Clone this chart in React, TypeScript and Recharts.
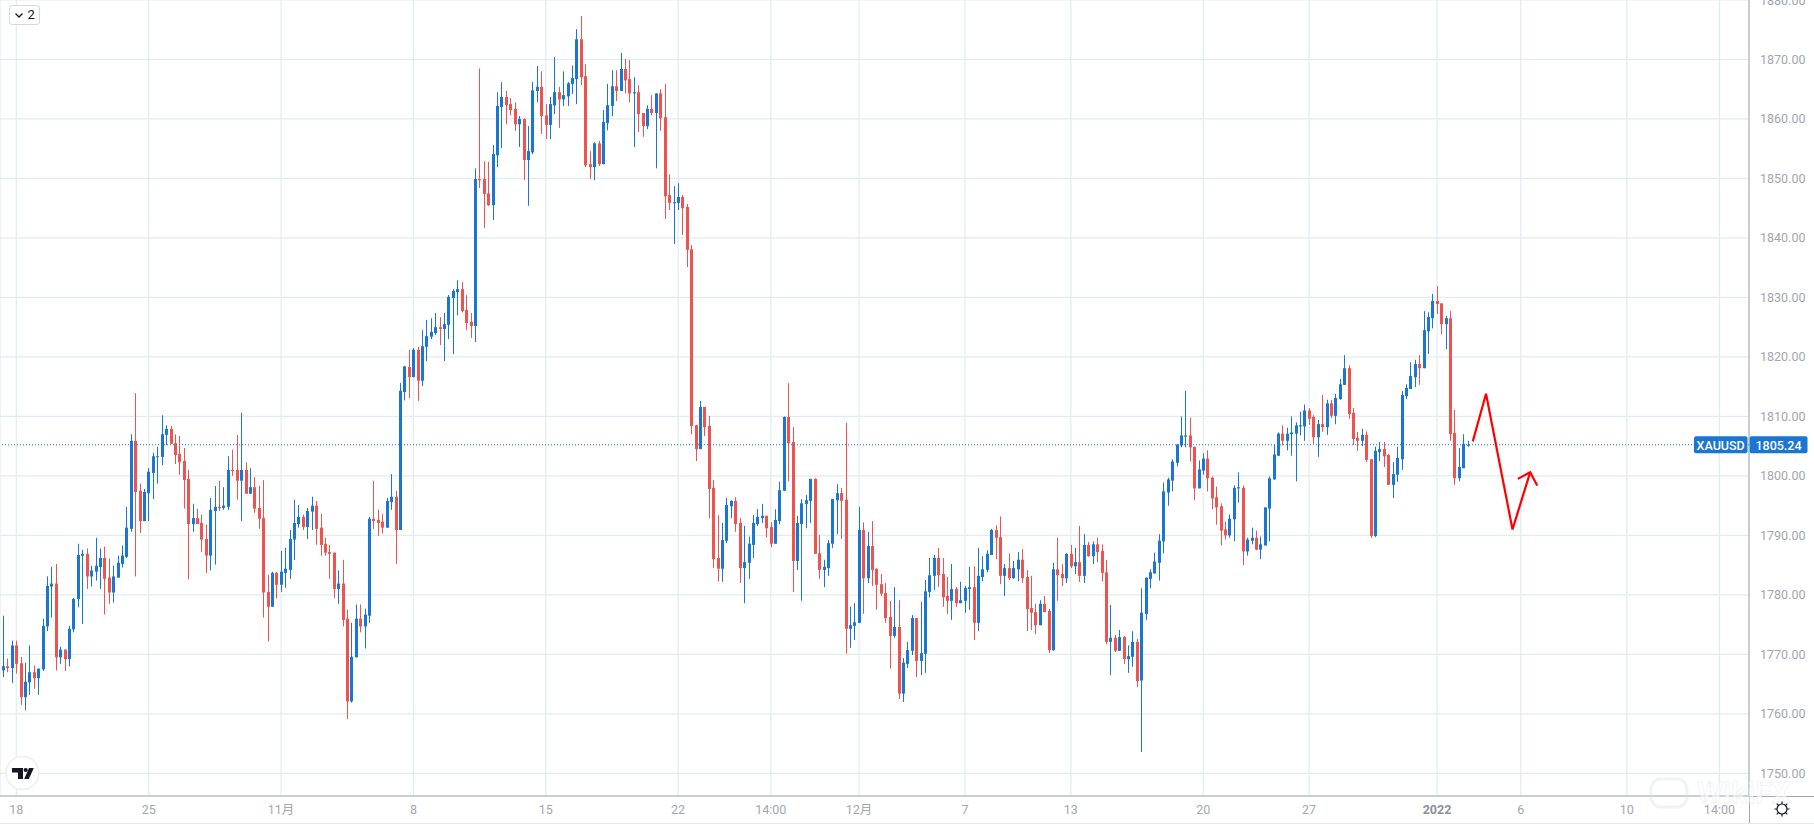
import React from "react";
import { ComposedChart, Bar, Line, XAxis, YAxis, CartesianGrid, ReferenceLine } from "recharts";

const highs = [
1776.5,1769.3,1772.3,1772.3,1769.6,1768.6,1771.5,1768.1,1767.6,1776.0,
1783.1,1784.7,1785.2,1771.3,1770.8,1774.8,1779.5,1788.6,1787.6,1787.8,
1784.9,1789.6,1787.8,1788.1,1786.1,1784.9,1786.6,1788.3,1794.8,1807.0,
1813.9,1798.7,1797.8,1801.3,1803.9,1804.9,1810.2,1808.5,1808.4,1807.0,
1806.7,1804.7,1801.0,1795.3,1794.5,1793.5,1791.8,1796.3,1798.3,1799.2,
1798.1,1803.3,1804.4,1806.9,1810.6,1802.3,1801.3,1799.8,1798.3,1799.3,
1783.4,1783.9,1783.9,1787.4,1787.9,1790.9,1796.0,1795.1,1793.5,1794.6,
1796.5,1795.8,1793.6,1789.6,1788.4,1787.1,1784.1,1785.9,1777.5,1775.3,
1778.4,1778.4,1777.7,1793.1,1799.2,1794.3,1793.6,1796.3,1800.3,1797.5,
1815.6,1818.5,1821.2,1821.5,1821.7,1824.5,1826.2,1826.5,1827.4,1826.7,
1827.4,1830.4,1831.4,1832.9,1832.6,1830.4,1827.4,1851.7,1868.5,1852.9,
1852.8,1855.6,1864.5,1866.2,1864.7,1863.5,1862.8,1860.5,1860.1,1858.8,
1866.2,1868.9,1868.0,1862.5,1863.7,1870.4,1865.4,1868.0,1866.2,1869.0,
1875.1,1877.3,1869.2,1854.6,1856.1,1856.3,1861.5,1865.9,1868.2,1868.2,
1871.1,1870.1,1869.9,1867.0,1865.7,1861.0,1862.3,1864.0,1864.3,1865.0,
1865.9,1850.7,1848.7,1849.2,1847.2,1845.7,1838.8,1808.6,1812.6,1811.6,
1810.1,1799.3,1793.4,1792.1,1796.3,1795.9,1796.4,1792.9,1791.6,1789.8,
1793.4,1794.4,1795.3,1793.3,1792.2,1794.4,1799.0,1810.0,1815.6,1808.2,
1793.3,1796.1,1796.8,1799.5,1799.6,1790.1,1785.9,1789.2,1796.1,1798.6,
1798.0,1808.9,1778.0,1778.6,1794.8,1792.2,1790.6,1792.4,1784.4,1783.5,
1782.0,1779.0,1781.3,1779.1,1769.4,1772.1,1776.6,1776.1,1778.8,1782.5,
1786.2,1786.7,1787.9,1786.2,1783.0,1785.2,1781.3,1782.2,1781.5,1784.7,
1784.8,1787.9,1786.5,1787.5,1791.1,1791.7,1793.2,1785.2,1787.0,1785.7,
1787.2,1787.7,1784.2,1783.2,1778.5,1779.1,1779.8,1777.6,1785.4,1789.6,
1785.2,1787.0,1788.4,1787.9,1791.6,1790.2,1788.9,1789.0,1789.6,1788.5,
1785.9,1778.3,1773.3,1774.1,1773.1,1771.5,1773.9,1772.6,1781.1,1782.9,
1784.3,1787.1,1790.2,1798.9,1799.7,1802.8,1805.3,1810.0,1814.3,1809.8,
1804.9,1802.6,1803.8,1804.3,1799.9,1798.2,1795.4,1792.3,1793.5,1798.4,
1800.6,1798.4,1789.6,1791.3,1790.8,1789.8,1794.7,1799.9,1805.3,1807.3,
1808.5,1808.1,1810.0,1809.0,1810.8,1812.0,1811.4,1810.2,1809.4,1813.6,
1812.8,1812.8,1813.8,1816.3,1820.3,1818.6,1811.4,1807.4,1807.9,1807.5,
1802.8,1804.9,1805.7,1805.7,1803.7,1802.3,1804.9,1814.3,1815.4,1819.1,
1819.5,1820.3,1827.7,1827.5,1830.6,1831.9,1829.0,1826.9,1827.7,1811.1,
1804.7,1807.0,1805.9,
];

const opens = [
1767.3,1768.0,1767.7,1771.5,1768.5,1762.8,1765.3,1767.0,1766.0,1767.5,
1774.7,1781.4,1781.9,1769.5,1770.8,1769.2,1774.2,1779.3,1786.6,1786.9,
1783.1,1783.9,1784.7,1786.2,1782.9,1780.4,1782.9,1785.2,1786.4,1791.1,
1805.9,1797.5,1792.4,1797.1,1800.5,1803.2,1803.2,1806.9,1807.9,1805.5,
1803.7,1802.5,1799.5,1791.9,1792.9,1792.1,1789.4,1786.6,1794.1,1794.8,
1794.6,1794.8,1801.0,1801.0,1799.2,1801.0,1797.0,1798.1,1794.6,1792.9,
1780.5,1778.0,1783.7,1781.7,1783.7,1784.2,1789.3,1791.9,1793.1,1791.4,
1794.0,1795.0,1791.3,1788.6,1787.2,1787.1,1781.0,1781.9,1776.0,1762.1,
1769.5,1776.0,1774.7,1776.5,1792.8,1792.6,1792.3,1791.3,1795.6,1796.5,
1790.9,1814.1,1818.3,1816.6,1821.2,1816.0,1821.7,1823.4,1824.0,1825.0,
1824.7,1825.4,1829.9,1830.9,1831.4,1827.9,1825.9,1825.2,1849.9,1849.9,
1847.5,1845.5,1853.9,1862.0,1863.7,1862.5,1861.7,1859.1,1860.0,1853.1,
1854.4,1864.7,1865.4,1860.6,1859.0,1862.3,1864.5,1863.3,1863.8,1865.9,
1866.7,1873.4,1867.2,1852.4,1851.9,1855.9,1852.4,1859.3,1862.2,1865.5,
1864.7,1868.4,1866.7,1864.3,1864.5,1861.0,1858.8,1861.7,1861.0,1864.3,
1860.3,1847.2,1845.9,1845.9,1846.9,1845.2,1838.1,1808.5,1804.5,1811.6,
1808.4,1798.0,1786.2,1784.4,1789.1,1794.9,1795.8,1792.1,1784.5,1785.4,
1788.4,1791.9,1792.9,1793.3,1791.4,1788.6,1792.4,1797.5,1809.9,1805.7,
1785.7,1791.9,1795.3,1795.8,1799.5,1787.0,1784.2,1784.5,1788.6,1795.9,
1797.1,1796.0,1774.3,1774.8,1775.3,1790.9,1782.8,1788.2,1784.4,1781.8,
1780.3,1776.3,1773.1,1774.6,1763.4,1768.4,1770.6,1776.1,1768.9,1770.1,
1780.5,1783.2,1786.2,1783.5,1779.8,1779.0,1781.0,1778.6,1779.0,1781.0,
1781.3,1775.3,1783.0,1784.2,1786.7,1790.9,1789.7,1783.2,1784.5,1782.8,
1784.3,1785.9,1783.0,1777.8,1777.1,1774.9,1778.5,1777.3,1770.7,1784.3,
1783.5,1782.8,1786.9,1784.8,1785.5,1783.2,1788.4,1786.5,1788.5,1787.4,
1783.8,1772.1,1772.8,1770.6,1772.9,1769.2,1769.6,1772.1,1765.6,1776.8,
1782.7,1783.6,1785.4,1789.0,1797.2,1799.2,1802.2,1805.1,1806.6,1806.8,
1804.9,1797.9,1800.9,1802.9,1799.7,1796.4,1794.9,1791.0,1790.0,1792.7,
1797.9,1798.0,1787.3,1789.1,1789.6,1787.6,1788.3,1794.5,1799.4,1803.4,
1807.1,1805.9,1807.0,1807.1,1808.3,1808.3,1811.0,1809.9,1806.5,1808.7,
1808.2,1812.2,1810.1,1812.9,1815.3,1818.1,1810.6,1806.4,1805.9,1806.9,
1802.8,1789.9,1804.0,1804.5,1803.5,1798.5,1800.2,1802.8,1813.4,1814.6,
1816.6,1818.8,1818.1,1824.3,1826.5,1829.4,1829.0,1825.5,1826.5,1807.2,
1799.6,1801.3,1805.2,
];

const closes = [
1768.0,1767.7,1771.5,1768.4,1762.8,1765.4,1767.0,1766.0,1767.6,1774.8,
1781.5,1781.9,1769.5,1770.8,1769.2,1774.3,1779.3,1786.7,1786.9,1783.1,
1784.1,1784.9,1786.2,1782.7,1780.4,1783.1,1785.4,1786.6,1791.3,1805.9,
1797.3,1792.4,1797.3,1800.7,1803.3,1803.3,1807.0,1807.9,1805.4,1803.5,
1802.3,1799.3,1791.9,1792.9,1791.9,1789.3,1786.6,1794.3,1794.8,1794.6,
1795.0,1801.0,1800.8,1799.2,1801.0,1797.0,1798.1,1794.5,1792.8,1780.4,
1778.0,1783.7,1781.7,1783.9,1784.4,1789.4,1792.1,1793.1,1791.4,1794.1,
1795.0,1791.1,1788.4,1787.1,1786.9,1781.0,1781.9,1775.8,1762.1,1769.6,
1776.0,1774.7,1776.7,1792.8,1792.4,1792.1,1791.3,1795.8,1796.5,1790.9,
1814.3,1818.4,1816.6,1821.2,1816.0,1821.8,1823.5,1824.2,1825.0,1824.7,
1825.5,1830.1,1831.1,1831.4,1827.7,1825.7,1825.2,1849.9,1849.7,1847.4,
1845.5,1854.1,1862.2,1863.7,1862.3,1861.5,1859.1,1860.0,1853.1,1854.6,
1864.8,1865.4,1860.5,1859.0,1862.5,1864.5,1863.3,1864.0,1866.0,1866.9,
1873.4,1867.0,1852.2,1851.9,1855.9,1852.4,1859.5,1862.3,1865.5,1864.7,
1868.4,1866.5,1864.3,1864.5,1860.8,1858.8,1861.7,1861.0,1864.3,1860.1,
1847.0,1845.9,1846.0,1846.9,1845.0,1838.0,1808.4,1804.5,1811.6,1808.2,
1797.8,1786.0,1784.4,1789.2,1795.1,1795.8,1791.9,1784.5,1785.5,1788.6,
1792.1,1793.1,1793.3,1791.2,1788.6,1792.6,1797.6,1809.9,1805.5,1785.7,
1792.1,1795.4,1795.9,1799.5,1786.9,1784.2,1784.7,1788.7,1796.1,1797.1,
1795.8,1774.3,1774.9,1775.4,1790.9,1782.8,1788.2,1784.2,1781.7,1780.2,
1776.1,1773.1,1774.6,1763.4,1768.6,1770.7,1776.1,1768.9,1770.2,1780.6,
1783.3,1786.2,1783.3,1779.6,1779.0,1781.0,1778.6,1779.1,1781.2,1781.3,
1775.3,1783.2,1784.3,1786.9,1790.9,1789.6,1783.2,1784.5,1782.8,1784.5,
1785.9,1782.8,1777.6,1777.0,1774.9,1778.5,1777.1,1770.7,1784.3,1783.3,
1782.8,1786.9,1784.8,1785.5,1783.2,1788.4,1786.5,1788.5,1787.2,1783.7,
1772.1,1772.8,1770.6,1772.9,1769.2,1769.7,1772.1,1765.5,1777.0,1782.9,
1783.8,1785.6,1789.1,1797.4,1799.4,1802.4,1805.3,1806.8,1806.8,1804.8,
1797.9,1801.1,1802.9,1799.6,1796.2,1794.7,1790.8,1790.0,1792.8,1798.0,
1798.1,1787.3,1789.3,1789.6,1787.6,1788.5,1794.7,1799.6,1803.6,1807.1,
1805.9,1807.1,1807.3,1808.5,1808.5,1811.0,1809.6,1806.5,1808.7,1808.2,
1812.2,1810.1,1813.1,1815.4,1818.1,1810.4,1806.2,1805.9,1806.9,1802.7,
1789.9,1804.2,1804.5,1803.3,1798.5,1800.3,1803.0,1813.6,1814.8,1816.8,
1818.8,1818.1,1824.5,1826.7,1829.4,1828.9,1825.5,1826.5,1807.0,1799.6,
1801.5,1805.4,1805.24,
];

const lows = [
1766.2,1767.0,1765.2,1766.8,1761.5,1760.6,1763.2,1764.2,1763.2,1767.2,
1773.9,1776.2,1767.3,1768.4,1767.2,1768.0,1773.7,1777.9,1775.1,1781.0,
1781.4,1782.4,1781.0,1776.7,1778.5,1778.7,1782.9,1784.6,1786.2,1790.6,
1783.1,1790.4,1792.4,1792.4,1796.1,1798.7,1801.8,1805.2,1805.4,1802.0,
1800.2,1794.5,1782.6,1790.6,1791.9,1787.2,1783.7,1784.1,1785.1,1794.1,
1794.3,1794.3,1800.0,1796.0,1792.4,1797.0,1797.0,1793.8,1791.1,1776.2,
1772.2,1778.0,1779.4,1780.5,1781.2,1782.7,1785.9,1791.3,1790.9,1789.4,
1790.9,1788.4,1786.6,1786.6,1782.7,1779.5,1778.5,1774.7,1759.1,1761.9,
1769.5,1773.7,1771.0,1775.3,1791.1,1789.9,1790.3,1791.3,1794.3,1785.2,
1790.9,1812.7,1813.1,1816.6,1812.6,1815.1,1819.3,1823.0,1823.7,1822.0,
1819.3,1823.0,1820.5,1827.0,1827.5,1824.5,1823.2,1822.5,1848.4,1841.7,
1845.4,1843.0,1851.9,1855.1,1859.1,1860.6,1858.0,1855.3,1849.7,1845.4,
1854.1,1862.8,1857.5,1856.6,1856.6,1860.8,1858.5,1862.2,1862.2,1864.2,
1862.5,1865.7,1851.9,1849.9,1849.7,1852.1,1852.4,1858.1,1860.5,1863.0,
1864.7,1864.3,1862.8,1855.3,1857.8,1857.0,1858.3,1860.6,1851.7,1858.0,
1843.2,1844.7,1839.0,1844.7,1840.5,1835.1,1807.0,1802.5,1804.5,1806.7,
1792.9,1784.5,1782.2,1782.2,1788.7,1792.9,1790.6,1782.0,1778.6,1782.7,
1786.2,1791.6,1792.1,1789.6,1788.0,1788.6,1791.9,1797.5,1799.1,1780.5,
1784.2,1779.0,1791.2,1792.1,1786.9,1782.7,1781.3,1783.2,1787.9,1790.2,
1789.4,1770.1,1771.1,1772.4,1775.3,1776.8,1782.0,1781.5,1777.5,1779.8,
1775.3,1767.6,1772.8,1762.5,1762.0,1767.7,1769.9,1766.2,1766.5,1766.9,
1779.6,1780.8,1781.3,1778.0,1776.8,1775.8,1778.0,1778.6,1777.0,1777.5,
1772.4,1773.9,1782.3,1783.8,1786.7,1786.0,1781.8,1779.8,1782.5,1782.7,
1782.3,1782.0,1773.9,1774.1,1773.4,1774.9,1777.1,1770.2,1770.6,1779.0,
1781.5,1782.0,1784.5,1783.5,1782.2,1782.0,1786.4,1785.2,1785.5,1782.2,
1771.7,1766.5,1770.4,1770.6,1768.4,1766.9,1767.9,1764.5,1753.6,1775.8,
1781.1,1783.6,1782.4,1787.0,1795.0,1797.4,1801.6,1804.8,1804.8,1802.4,
1795.9,1797.9,1800.2,1797.4,1794.4,1791.8,1788.3,1789.3,1789.6,1789.0,
1795.5,1785.0,1786.6,1788.5,1787.5,1786.0,1788.3,1789.0,1799.4,1803.3,
1805.1,1804.3,1803.4,1799.1,1806.8,1805.9,1808.6,1805.4,1803.2,1807.4,
1806.9,1809.7,1808.7,1812.8,1815.3,1809.6,1805.2,1804.2,1805.0,1802.3,
1789.6,1789.7,1802.5,1801.5,1798.5,1796.3,1799.0,1801.0,1812.9,1814.6,
1814.9,1815.3,1818.1,1820.5,1824.8,1827.2,1823.8,1821.3,1805.9,1798.5,
1799.1,1801.3,1804.9,
];

const priceTicks = [1750, 1760, 1770, 1780, 1790, 1800, 1810, 1820, 1830, 1840, 1850, 1860, 1870, 1880];
const dateTickIndex = [3, 33, 63, 93, 123, 153, 174, 194, 218, 242, 272, 296, 325, 344, 368, 389];
const dateTickLabels = ["18", "25", "11月", "8", "15", "22", "14:00", "12月", "7", "13", "20", "27", "2022", "6", "10", "14:00"];

const lastPrice = 1805.24;
const symbol = "XAUUSD";

const forecastIndex = [333.1, 336.1, 342.1, 346.1];
const forecastPrice = [1805.8, 1813.8, 1791.0, 1800.6];
const arrowIndex = [343.3, 346.1, 347.7];
const arrowPrice = [1799.5, 1800.6, 1798.4];

const UP = "#1976d2";
const DOWN = "#ef5350";
const GRID = "#e1ebf2";
const AXIS = "#a6a7ab";
const TEXT = "#a3a6af";
const FONT = 'Roboto, "Noto Sans CJK SC", sans-serif';

const candles: any[] = highs.map((h, i) => ({ i, high: h, low: lows[i], open: opens[i], close: closes[i] }));
const forecastRows = forecastIndex.map((i, k) => ({ i, forecast: forecastPrice[k] }));
const arrowRows = arrowIndex.map((i, k) => ({ i, arrow: arrowPrice[k] }));
const rows = [...candles, ...forecastRows, ...arrowRows];

function Candle(props: any) {
  const { x, y, width, height, payload } = props;
  if (payload.high === undefined) return null;
  const { high, low, open, close } = payload;
  const k = height / (high - low);
  const top = y + (high - Math.max(open, close)) * k;
  const h = Math.max(1, Math.abs(open - close) * k);
  const color = close >= open ? UP : DOWN;
  const cx = Math.round(x + width / 2 - 0.5);
  return (
    <g>
      <rect x={cx} y={y} width={1} height={height} fill={color} />
      <rect x={cx - 1} y={top} width={3} height={h} fill={color} />
    </g>
  );
}

function PriceTag(props: any) {
  const y = props.viewBox.y;
  return (
    <g fontFamily={FONT} fontSize={12.5} fontWeight={500} fill="#fff">
      <rect x={1694} y={y - 8.5} width={53.5} height={17} rx={2} fill={UP} />
      <rect x={1749.5} y={y - 8.5} width={58} height={17} rx={2} fill={UP} />
      <text x={1720.7} y={y + 0.5} textAnchor="middle" dominantBaseline="central">{symbol}</text>
      <text x={1778.5} y={y + 0.5} textAnchor="middle" dominantBaseline="central">{lastPrice.toFixed(2)}</text>
    </g>
  );
}

function DateTick(props: any) {
  const { x, payload } = props;
  const label = dateTickLabels[dateTickIndex.indexOf(payload.value)];
  return (
    <text x={x} y={809} textAnchor="middle" dominantBaseline="central" fontFamily={FONT} fontSize={12.5}
      fontWeight={label === "2022" ? 700 : 400} fill={label === "2022" ? "#8d909a" : TEXT}>
      {label}
    </text>
  );
}

function PriceTick(props: any) {
  const { y, payload } = props;
  return (
    <text x={1760} y={y} dominantBaseline="central" fontFamily={FONT} fontSize={12.5} fill={TEXT}>
      {payload.value.toFixed(2)}
    </text>
  );
}

const abs = (left: number, top: number, width: number, height: number, extra: any = {}) => ({
  position: "absolute" as const, left, top, width, height, ...extra,
});

export default function App() {
  return (
    <div style={abs(0, 0, 1814, 824, { position: "fixed", background: "#fff", overflow: "hidden" })}>
      <ComposedChart width={1814} height={824} data={rows} margin={{ top: 0, right: 0, bottom: 0, left: 0 }}>
        <CartesianGrid stroke={GRID} strokeWidth={1.2} />
        <XAxis
          dataKey="i"
          type="number"
          domain={[-0.694, 395.7]}
          ticks={dateTickIndex}
          interval={0}
          height={28}
          stroke={AXIS}
          tickLine={false}
          tick={<DateTick />}
          allowDataOverflow
        />
        <YAxis
          orientation="right"
          type="number"
          width={65}
          domain={[1746.19, 1880]}
          ticks={priceTicks}
          interval={0}
          stroke={AXIS}
          tickLine={false}
          tick={<PriceTick />}
          allowDataOverflow
        />
        <ReferenceLine y={lastPrice} stroke={UP} strokeDasharray="1 2" label={<PriceTag />} />
        <Bar dataKey={(d: any) => (d.high === undefined ? null : [d.low, d.high])} barSize={3} shape={<Candle />} isAnimationActive={false} />
        <Line dataKey="forecast" connectNulls stroke="#ff0000" strokeWidth={2.2} dot={false} activeDot={false} isAnimationActive={false} />
        <Line dataKey="arrow" connectNulls stroke="#ff0000" strokeWidth={2.2} dot={false} activeDot={false} isAnimationActive={false} />
      </ComposedChart>

      <div style={abs(1749, 796, 65, 1, { background: AXIS })} />
      <div style={abs(1749, 796, 1, 28, { background: AXIS })} />
      <div style={abs(0, 823, 1814, 1, { background: "#e6e7ea" })} />

      <div style={abs(8.5, 5, 31, 20, { boxSizing: "border-box", border: "1px solid #d6d8e0", borderRadius: 3, background: "#fff", fontFamily: FONT, fontSize: 13, color: "#131722" })}>
        <svg width={12} height={18} style={{ position: "absolute", left: 4, top: 0 }}>
          <path d="M1.5 7.5 L5 11 L8.5 7.5" fill="none" stroke="#131722" strokeWidth={1.3} />
        </svg>
        <span style={{ position: "absolute", left: 18, top: 1 }}>2</span>
      </div>

      <svg style={abs(0, 750, 46, 46)} viewBox="0 750 46 46">
        <circle cx={22.5} cy={773} r={16.5} fill="#fff" stroke="#eeeff1" strokeWidth={1.5} />
        <path d="M12 768 H23 V779 H18 V772.5 H12 Z" fill="#131722" />
        <circle cx={25.7} cy={770} r={2.1} fill="#131722" />
        <path d="M29 768 H33.8 L28.8 779 H24.2 Z" fill="#131722" />
      </svg>

      <svg style={abs(1770, 797, 26, 26)} viewBox="0 0 26 26">
        <circle cx={12} cy={12} r={5} fill="none" stroke="#131722" strokeWidth={1.2} />
        <path d="M12 4.5V7 M12 17V19.5 M4.5 12H7 M17 12H19.5 M6.7 6.7L8.4 8.4 M15.6 15.6L17.3 17.3 M6.7 17.3L8.4 15.6 M15.6 8.4L17.3 6.7"
          stroke="#131722" strokeWidth={1.2} />
      </svg>

      <svg style={abs(1645, 776, 169, 36)} viewBox="0 0 169 36">
        <rect x={6} y={3} width={36} height={28} rx={10} fill="none" stroke="#d8dbe0" strokeOpacity={0.35} strokeWidth={3} />
        <text x={52} y={27} fontFamily={FONT} fontSize={30} fontWeight={700} fill="#ffffff" fillOpacity={0.6} stroke="#d8dbe0" strokeOpacity={0.35}>
          WikiFX
        </text>
      </svg>
    </div>
  );
}
